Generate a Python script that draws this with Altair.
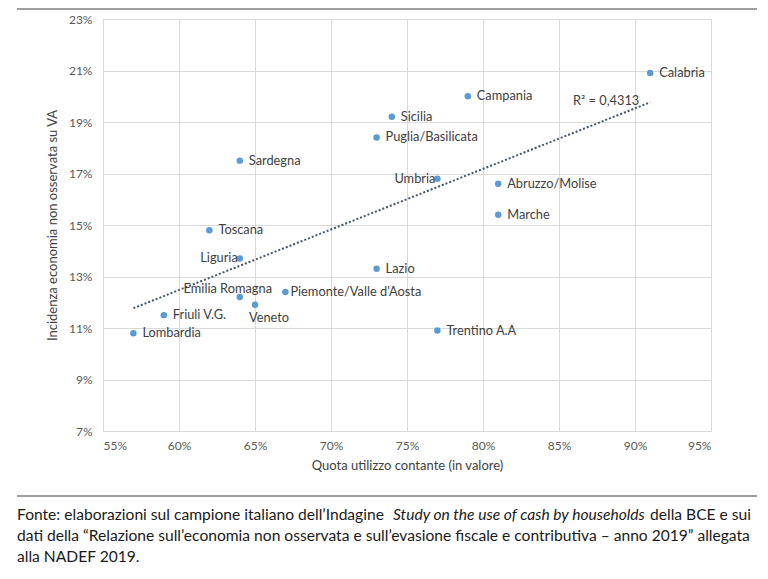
import altair as alt
import pandas as pd

regions = ["Calabria", "Campania", "Sicilia", "Puglia/Basilicata", "Sardegna", "Umbria",
           "Abruzzo/Molise", "Marche", "Toscana", "Liguria", "Lazio", "Emilia Romagna",
           "Piemonte/Valle d'Aosta", "Veneto", "Friuli V.G.", "Lombardia", "Trentino A.A"]
cash_share = [91, 79, 74, 73, 64, 77, 81, 81, 62, 64, 73, 64, 67, 65, 59, 57, 77]
shadow_econ = [20.9, 20.0, 19.2, 18.4, 17.5, 16.8, 16.6, 15.4, 14.8, 13.7, 13.3, 12.2, 12.4, 11.9, 11.5, 10.8, 10.9]

x_ticks = [55, 60, 65, 70, 75, 80, 85, 90, 95]
y_ticks = [7, 9, 11, 13, 15, 17, 19, 21, 23]

r2_text = ["R² = 0,4313"]
r2_x = [88.1]
r2_y = [19.8]

left_labels = ["Umbria", "Liguria"]
above_labels = ["Emilia Romagna"]
below_labels = ["Veneto"]
near_labels = ["Piemonte/Valle d'Aosta"]

footer_l1a = "Fonte: elaborazioni sul campione italiano dell’Indagine "
footer_l1b = "Study on the use of cash by households"
footer_l1c = " della BCE e sui"
footer_l2 = "dati della “Relazione sull’economia non osservata e sull’evasione fiscale e contributiva – anno 2019” allegata"
footer_l3 = "alla NADEF 2019."

df = pd.DataFrame({"region": regions, "x": cash_share, "y": shadow_econ})
ann = pd.DataFrame({"t": r2_text, "x": r2_x, "y": r2_y})

FONT = "Lato"
POINT = "#5b9bd5"
TXT = "#404040"
LABEL_SIZE = 12.8

xs = alt.Scale(domain=[55, 95], nice=False, zero=False)
ys = alt.Scale(domain=[7, 23], nice=False, zero=False)

X = alt.X("x:Q", scale=xs, axis=alt.Axis(
    values=x_ticks, labelExpr="datum.value + '%'", title="Quota utilizzo contante (in valore)",
    grid=True, gridColor="#d9d9d9", domain=False, ticks=False, labelPadding=9,
    labelFont=FONT, labelFontSize=12, labelColor="#595959",
    titleFont=FONT, titleFontSize=13, titleFontWeight="normal", titleColor=TXT, titlePadding=8))
Y = alt.Y("y:Q", scale=ys, axis=alt.Axis(
    values=y_ticks, labelExpr="datum.value + '%'", title="Incidenza economia non osservata su VA",
    grid=True, gridColor="#d9d9d9", domain=False, ticks=False, labelPadding=11,
    labelFont=FONT, labelFontSize=12, labelColor="#595959",
    titleFont=FONT, titleFontSize=13, titleFontWeight="normal", titleColor=TXT, titlePadding=9))

base = alt.Chart(df)

points = base.mark_circle(size=42, color=POINT, opacity=1).encode(x=X, y=Y)

trend = base.transform_regression("x", "y").mark_line(
    color="#44546a", strokeDash=[2, 2], strokeWidth=2).encode(
    x=alt.X("x:Q", scale=xs), y=alt.Y("y:Q", scale=ys))

r2 = alt.Chart(ann).mark_text(font=FONT, fontSize=LABEL_SIZE, color=TXT, align="center",
                              baseline="middle").encode(
    x=alt.X("x:Q", scale=xs), y=alt.Y("y:Q", scale=ys), text="t:N")

special = left_labels + above_labels + below_labels + near_labels


def lab(filter_list, exclude=False, **kw):
    pred = alt.FieldOneOfPredicate(field="region", oneOf=filter_list)
    c = base.transform_filter({"not": pred} if exclude else pred)
    return c.mark_text(font=FONT, fontSize=LABEL_SIZE, color=TXT, baseline="middle", **kw).encode(
        x=alt.X("x:Q", scale=xs), y=alt.Y("y:Q", scale=ys), text="region:N")


lab_right = lab(special, exclude=True, align="left", dx=9)
lab_left = lab(left_labels, align="right", dx=-2)
lab_above = lab(above_labels, align="center", dx=-12, dy=-8)
lab_below = lab(below_labels, align="left", dx=-6, dy=13)
lab_near = lab(near_labels, align="left", dx=5)

# footer
foot_src = pd.DataFrame({"k": [0]})
fb = alt.Chart(foot_src)
rule_top = fb.mark_rule(color="#7f7f7f", strokeWidth=1.5).encode(
    x=alt.value(-86), x2=alt.value(654), y=alt.value(-10))
rule_bot = fb.mark_rule(color="#7f7f7f", strokeWidth=1.5).encode(
    x=alt.value(-86), x2=alt.value(654), y=alt.value(477))

FSIZE = 15.6


def ftxt(t, x, y, italic=False, align="left"):
    return fb.mark_text(text=t, font=FONT, fontSize=FSIZE, color="#1a1a1a", align=align,
                        baseline="middle", fontStyle="italic" if italic else "normal").encode(
        x=alt.value(x), y=alt.value(y))


f1a = ftxt(footer_l1a, -86, 496)
f1b = ftxt(footer_l1b, 290, 496, italic=True)
f1c = ftxt(footer_l1c, 648, 496, align="right")
f2 = ftxt(footer_l2, -86, 517)
f3 = ftxt(footer_l3, -86, 538)

chart = alt.layer(
    points, trend, r2, lab_right, lab_left, lab_above, lab_below, lab_near,
    rule_top, rule_bot, f1a, f1b, f1c, f2, f3
).properties(
    width=608, height=412,
    autosize=alt.AutoSizeParams(type="none"),
    padding={"left": 95, "top": 11, "right": 49, "bottom": 140},
).configure_view(stroke=None).configure(background="white")

chart.save("out.html", embed_options={"renderer": "svg", "actions": False})
